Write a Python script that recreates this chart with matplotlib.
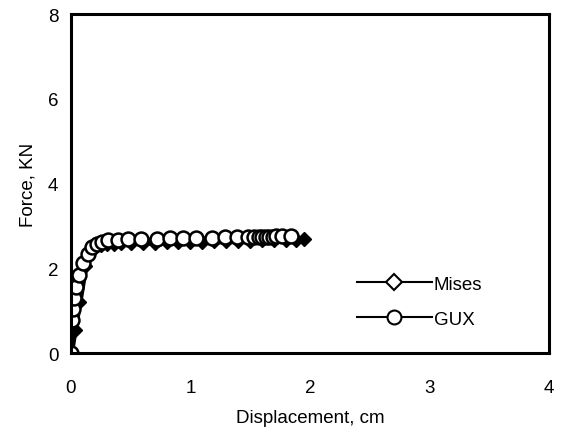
import matplotlib.pyplot as plt

plt.rcParams['font.family'] = ['Liberation Sans', 'DejaVu Sans']

# Mises solution: displacement (cm) vs force (KN)
mises_x = [0.0, 0.03, 0.07, 0.12, 0.16, 0.2, 0.25, 0.3, 0.36, 0.42, 0.5, 0.6, 0.7, 0.8,
           0.9, 1.0, 1.1, 1.2, 1.3, 1.4, 1.5, 1.6, 1.7, 1.8, 1.88, 1.95]
mises_y = [0.0, 0.55, 1.2, 2.05, 2.38, 2.5, 2.55, 2.57, 2.58, 2.59, 2.6, 2.61, 2.61, 2.62,
           2.62, 2.63, 2.63, 2.64, 2.64, 2.65, 2.65, 2.66, 2.66, 2.67, 2.67, 2.7]

# GUX solution
gux_x = [0.0, 0.01, 0.015, 0.025, 0.04, 0.065, 0.1, 0.14, 0.18, 0.22, 0.26, 0.31, 0.39,
         0.48, 0.59, 0.72, 0.83, 0.94, 1.05, 1.18, 1.29, 1.39, 1.48, 1.53, 1.57, 1.6,
         1.63, 1.66, 1.69, 1.72, 1.77, 1.84]
gux_y = [0.0, 0.78, 1.05, 1.3, 1.55, 1.85, 2.12, 2.35, 2.5, 2.58, 2.63, 2.66, 2.68,
         2.69, 2.7, 2.7, 2.71, 2.71, 2.72, 2.72, 2.73, 2.73, 2.74, 2.74, 2.74, 2.75,
         2.75, 2.75, 2.75, 2.76, 2.76, 2.77]

fig = plt.figure(figsize=(5.63, 4.35), dpi=100)
ax = fig.add_axes([0.126, 0.186, 0.849, 0.779])

ax.plot(mises_x, mises_y, color='black', linewidth=4.5, marker='D', markersize=7,
        markerfacecolor='black', markeredgecolor='black', label='Mises')
ax.plot(gux_x, gux_y, color='black', linewidth=1.5, marker='o', markersize=10,
        markerfacecolor='white', markeredgecolor='black', markeredgewidth=1.8, label='GUX')

ax.set_xlim(0, 4)
ax.set_ylim(0, 8)
ax.set_xticks([0, 1, 2, 3, 4])
ax.set_yticks([0, 2, 4, 6, 8])
ax.tick_params(axis='both', length=0, labelsize=13.5)
ax.tick_params(axis='x', pad=19)
ax.tick_params(axis='y', pad=9)
for sp in ax.spines.values():
    sp.set_linewidth(2.2)

ax.set_xlabel('Displacement, cm', fontsize=13.5, labelpad=9)
ax.set_ylabel('Force, KN', fontsize=13.5, labelpad=8)

# legend with open markers
h1, = ax.plot([], [], color='black', linewidth=1.5, marker='D', markersize=8,
              markerfacecolor='white', markeredgecolor='black', markeredgewidth=1.5)
h2, = ax.plot([], [], color='black', linewidth=1.5, marker='o', markersize=10,
              markerfacecolor='white', markeredgecolor='black', markeredgewidth=1.5)
ax.legend([h1, h2], ['Mises', 'GUX'], loc='lower left', bbox_to_anchor=(0.563, 0.025),
          frameon=False, fontsize=13.5, handlelength=4.0, handletextpad=0.1, labelspacing=0.95)

fig.savefig('out.png', dpi=100)
plt.close()
